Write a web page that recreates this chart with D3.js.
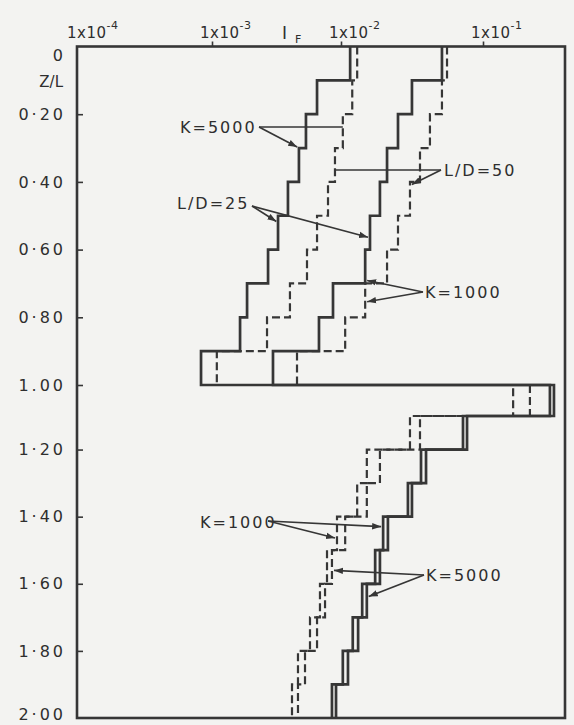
<!DOCTYPE html>
<html>
<head>
<meta charset="utf-8">
<script src="https://cdn.jsdelivr.net/npm/d3@7"></script>
<style>
  html, body { margin: 0; padding: 0; background: #f3f3f1; }
  svg { display: block; }
  text { font-family: "DejaVu Sans", sans-serif; fill: #2e2e2e; }
</style>
</head>
<body>
<div id="chart"></div>
<script>
// ---------------- data ----------------
// Z/L interval edges (steps of 0.1)
const zEdges = [0, 0.1, 0.2, 0.3, 0.4, 0.5, 0.6, 0.7, 0.8, 0.9, 1.0,
                1.1, 1.2, 1.3, 1.4, 1.5, 1.6, 1.7, 1.8, 1.9, 2.0];

// I_F per Z/L interval (20 intervals)
const k5000_ld25 = [1.16e-2, 6.52e-3, 5.35e-3, 4.72e-3, 3.88e-3, 3.25e-3, 2.72e-3, 1.87e-3, 1.65e-3, 8.27e-4,
                    3.16e-1, 7.72e-2, 3.97e-2, 3.16e-2, 2.14e-2, 1.88e-2, 1.52e-2, 1.32e-2, 1.12e-2, 9.15e-3];
const k5000_ld50 = [1.30e-2, 1.20e-2, 1.03e-2, 8.98e-3, 7.93e-3, 6.52e-3, 5.45e-3, 4.02e-3, 2.67e-3, 1.09e-3,
                    2.14e-1, 3.60e-2, 1.88e-2, 1.52e-2, 1.07e-2, 8.51e-3, 7.52e-3, 6.52e-3, 5.26e-3, 4.64e-3];
const k1000_ld25 = [5.14e-2, 3.16e-2, 2.52e-2, 2.11e-2, 1.88e-2, 1.60e-2, 1.48e-2, 8.67e-3, 6.75e-3, 2.97e-3,
                    2.96e-1, 7.23e-2, 3.66e-2, 2.96e-2, 1.98e-2, 1.74e-2, 1.41e-2, 1.21e-2, 1.03e-2, 8.51e-3];
const k1000_ld50 = [5.58e-2, 5.14e-2, 4.23e-2, 3.60e-2, 3.06e-2, 2.52e-2, 2.11e-2, 1.48e-2, 1.07e-2, 4.56e-3,
                    1.63e-1, 3.06e-2, 1.52e-2, 1.30e-2, 9.31e-3, 7.79e-3, 6.87e-3, 5.75e-3, 4.64e-3, 4.17e-3];

// axis ticks
const xTickValues = [1e-4, 1e-3, 1e-2, 1e-1];
const xTickExponents = ["-4", "-3", "-2", "-1"];
const zTickValues = [0, 0.2, 0.4, 0.6, 0.8, 1.0, 1.2, 1.4, 1.6, 1.8, 2.0];
const zTickLabels = ["0", "0·20", "0·40", "0·60", "0·80", "1.00", "1·20", "1·40", "1·60", "1·80", "2·00"];

// ---------------- layout ----------------
const W = 574, H = 725;
const frame = { left: 77, top: 46.5, right: 565, bottom: 718 };
const ink = "#363636";

const svg = d3.select("#chart").append("svg").attr("width", W).attr("height", H);

const x = d3.scaleLog().domain(xTickValues).range([79, 212, 341, 483]);
const y = d3.scaleLinear().domain([0, 1.0, 1.1, 2.0]).range([46.5, 385, 416, 718]);

// arrow marker
svg.append("defs").append("marker")
  .attr("id", "arr").attr("markerUnits", "userSpaceOnUse")
  .attr("viewBox", "0 -4 9 8").attr("refX", 9).attr("refY", 0)
  .attr("markerWidth", 9).attr("markerHeight", 8).attr("orient", "auto")
  .append("path").attr("d", "M0,-3.2L9,0L0,3.2Z").attr("fill", ink);

// frame
svg.append("rect")
  .attr("x", frame.left).attr("y", frame.top)
  .attr("width", frame.right - frame.left).attr("height", frame.bottom - frame.top)
  .attr("fill", "none").attr("stroke", ink).attr("stroke-width", 2.6);

// top axis (ticks outward)
const topAxis = svg.append("g").attr("transform", `translate(0,${frame.top})`)
  .call(d3.axisTop(x).tickValues(xTickValues.slice(1)).tickSize(5).tickFormat(() => ""));
topAxis.select(".domain").remove();
topAxis.selectAll("line").attr("stroke", ink).attr("stroke-width", 1.6);

const topLabels = svg.append("g");
xTickValues.forEach((v, i) => {
  const t = topLabels.append("text").attr("x", x(v) - 12).attr("y", 38)
    .attr("font-size", 15).attr("letter-spacing", 0.5).text("1x10");
  t.append("tspan").attr("dy", -9).attr("font-size", 11).text(xTickExponents[i]);
});
const iF = svg.append("text").attr("x", 282).attr("y", 39)
  .attr("font-size", 17).attr("font-family", "DejaVu Serif").text("I");
iF.append("tspan").attr("dx", 8).attr("dy", 4).attr("font-size", 11)
  .attr("font-family", "DejaVu Sans").text("F");

// left axis (ticks inward)
const leftAxis = svg.append("g").attr("transform", `translate(${frame.left},0)`)
  .call(d3.axisLeft(y).tickValues(zTickValues).tickSize(-6).tickPadding(11)
    .tickFormat((d, i) => zTickLabels[i]));
leftAxis.select(".domain").remove();
leftAxis.selectAll("line").attr("stroke", ink).attr("stroke-width", 1.6);
leftAxis.selectAll("text")
  .attr("font-size", 16).attr("letter-spacing", 3)
  .attr("font-family", "DejaVu Sans").attr("fill", "#2e2e2e");
leftAxis.selectAll(".tick").filter(d => d === 0).select("text").attr("dy", "0.9em");
leftAxis.selectAll(".tick").filter(d => d === 2.0).select("text").attr("dy", "0.1em");
leftAxis.selectAll(".tick").filter(d => d === 0 || d === 2.0).select("line").remove();

svg.append("text").attr("x", 63).attr("y", 87).attr("text-anchor", "end")
  .attr("font-size", 15).text("Z/L");

// ---------------- step curves ----------------
function stepPoints(vals) {
  const pts = [];
  vals.forEach((v, i) => { pts.push([v, zEdges[i]]); pts.push([v, zEdges[i + 1]]); });
  return pts;
}
const line = d3.line().x(d => x(d[0])).y(d => y(d[1]));

const series = [
  { vals: k5000_ld50, dashed: true },
  { vals: k1000_ld50, dashed: true },
  { vals: k5000_ld25, dashed: false },
  { vals: k1000_ld25, dashed: false }
];
svg.append("g").selectAll("path").data(series).join("path")
  .attr("d", d => line(stepPoints(d.vals)))
  .attr("fill", "none")
  .attr("stroke", ink)
  .attr("stroke-width", d => d.dashed ? 2.2 : 2.7)
  .attr("stroke-dasharray", d => d.dashed ? "8,4" : null)
  .attr("stroke-linejoin", "miter");

// ---------------- annotations ----------------
const notes = [
  { text: "K=5000", tx: 180, ty: 133, sx: 259, sy: 127,
    legs: [ { s: k5000_ld50, i: 2, z: null, head: false, horiz: true },
            { s: k5000_ld25, i: 3, z: 0.30, head: true } ] },
  { text: "L/D=25", tx: 177, ty: 209, sx: 252, sy: 206,
    legs: [ { s: k1000_ld25, i: 5, z: 0.565, head: true },
            { s: k5000_ld25, i: 5, z: 0.52, head: true } ] },
  { text: "L/D=50", tx: 444, ty: 176, sx: 441, sy: 170,
    legs: [ { s: k5000_ld50, i: 3, z: null, head: false, horiz: true },
            { s: k1000_ld50, i: 4, z: 0.41, head: true } ] },
  { text: "K=1000", tx: 425, ty: 298, sx: 423, sy: 292,
    legs: [ { s: k1000_ld25, i: 6, z: 0.69, head: true },
            { s: k1000_ld50, i: 7, z: 0.755, head: true } ] },
  { text: "K=1000", tx: 200, ty: 528, sx: 268, sy: 521,
    legs: [ { s: k1000_ld25, i: 14, z: 1.43, head: true },
            { s: k1000_ld50, i: 14, z: 1.465, head: true } ] },
  { text: "K=5000", tx: 426, ty: 581, sx: 424, sy: 575,
    legs: [ { s: k5000_ld50, i: 15, z: 1.56, head: true },
            { s: k5000_ld25, i: 16, z: 1.64, head: true } ] }
];

const ann = svg.append("g");
notes.forEach(n => {
  ann.append("text").attr("x", n.tx).attr("y", n.ty)
    .attr("font-size", 16).attr("letter-spacing", 2).text(n.text);
  n.legs.forEach(l => {
    const ex = x(l.s[l.i]);
    const ey = l.horiz ? n.sy : y(l.z);
    const dx = ex - n.sx, dy = ey - n.sy, len = Math.hypot(dx, dy);
    const back = l.head ? 2 : 0;
    ann.append("line")
      .attr("x1", n.sx).attr("y1", n.sy)
      .attr("x2", ex - dx / len * back).attr("y2", ey - dy / len * back)
      .attr("stroke", ink).attr("stroke-width", 1.7)
      .attr("marker-end", l.head ? "url(#arr)" : null);
  });
});
</script>
</body>
</html>
